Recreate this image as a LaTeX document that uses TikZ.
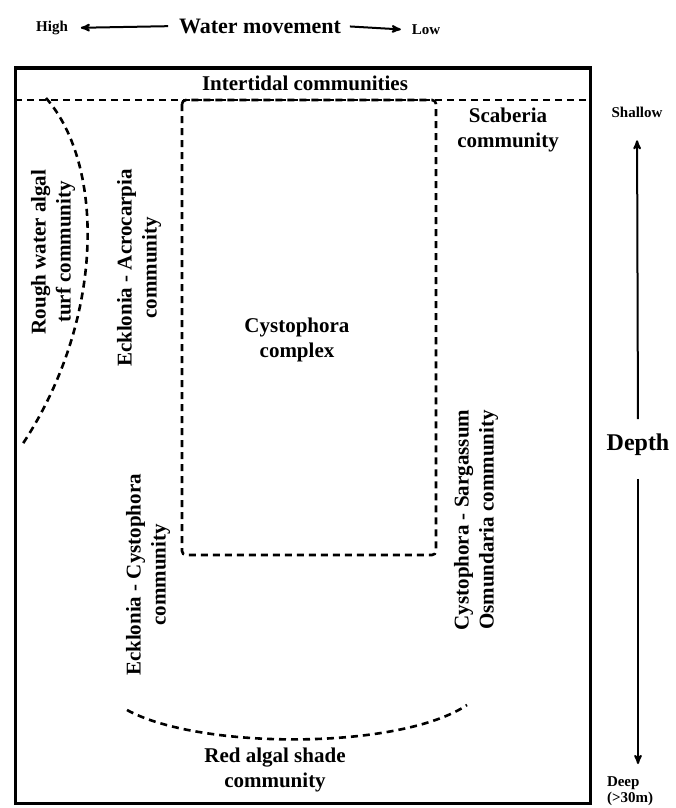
\documentclass[tikz,border=0pt]{standalone}
\usepackage{fontspec}
\setmainfont{Liberation Serif}
\usetikzlibrary{arrows}

\begin{document}
\begin{tikzpicture}[x=1pt,y=-1pt,>=stealth',line width=2pt]
  \tikzstyle{every node}=[inner sep=0pt,align=center]
  \tikzstyle{zone}=[line width=2.6pt,dash pattern=on 7pt off 5pt]
  \tikzstyle{lab}=[font=\bfseries\fontsize{21}{25}\selectfont]
  \tikzstyle{side}=[font=\bfseries\fontsize{15}{16}\selectfont]

  \useasboundingbox (0,0) rectangle (676,808);

  % water movement
  \node (wm) [font=\bfseries\fontsize{22}{24}\selectfont] at (260,26) {Water movement};
  \node (high) [side] at (52,28) {High};
  \node (low) [side] at (426,30) {Low};
  \draw[->] (wm.west) -- (high.east) [shorten <=10pt,shorten >=12pt];
  \draw[->] (wm.east) -- (low.west) [shorten <=8pt,shorten >=10pt];

  % frame and zones
  \draw[line width=3pt] (15,68) rectangle (590,803);
  \draw[zone] (15,100) -- (590,100);
  \draw[zone,rounded corners=4pt] (182,100) rectangle (436,555);
  \draw[zone] (46,98) .. controls (105,165) and (105,320) .. (22,445);
  \draw[zone] (127,710) .. controls (200,750) and (400,750) .. (467,705);

  % communities
  \node (inter) [lab] at (305,83) {Intertidal communities};
  \node (rough) [lab,rotate=90] at (53,252) {Rough water algal\\turf community};
  \node (eckacro) [lab,rotate=90] at (139,268) {Ecklonia - Acrocarpia\\community};
  \node (cysto) [lab] at (297,340) {Cystophora\\complex};
  \node (scab) [lab] at (508,130) {Scaberia\\community};
  \node (cysarg) [lab,rotate=90] at (476,520) {Cystophora - Sargassum\\Osmundaria community};
  \node (eckcys) [lab,rotate=90] at (148,575) {Ecklonia - Cystophora\\community};
  \node (red) [lab] at (275,770) {Red algal shade\\community};

  % depth
  \node (depth) [font=\bfseries\fontsize{24}{26}\selectfont] at (638,445) {Depth};
  \node (shallow) [side] at (637,112) {Shallow};
  \node (deep) [side,anchor=north west,align=left] at (606,776) {Deep\\(>30m)};
  \draw[->] (depth.north) -- (shallow.south) [shorten <=14pt,shorten >=22pt];
  \draw[->] (depth.south) -- (deep.north -| depth.south) [shorten <=22pt,shorten >=12pt];
\end{tikzpicture}
\end{document}
